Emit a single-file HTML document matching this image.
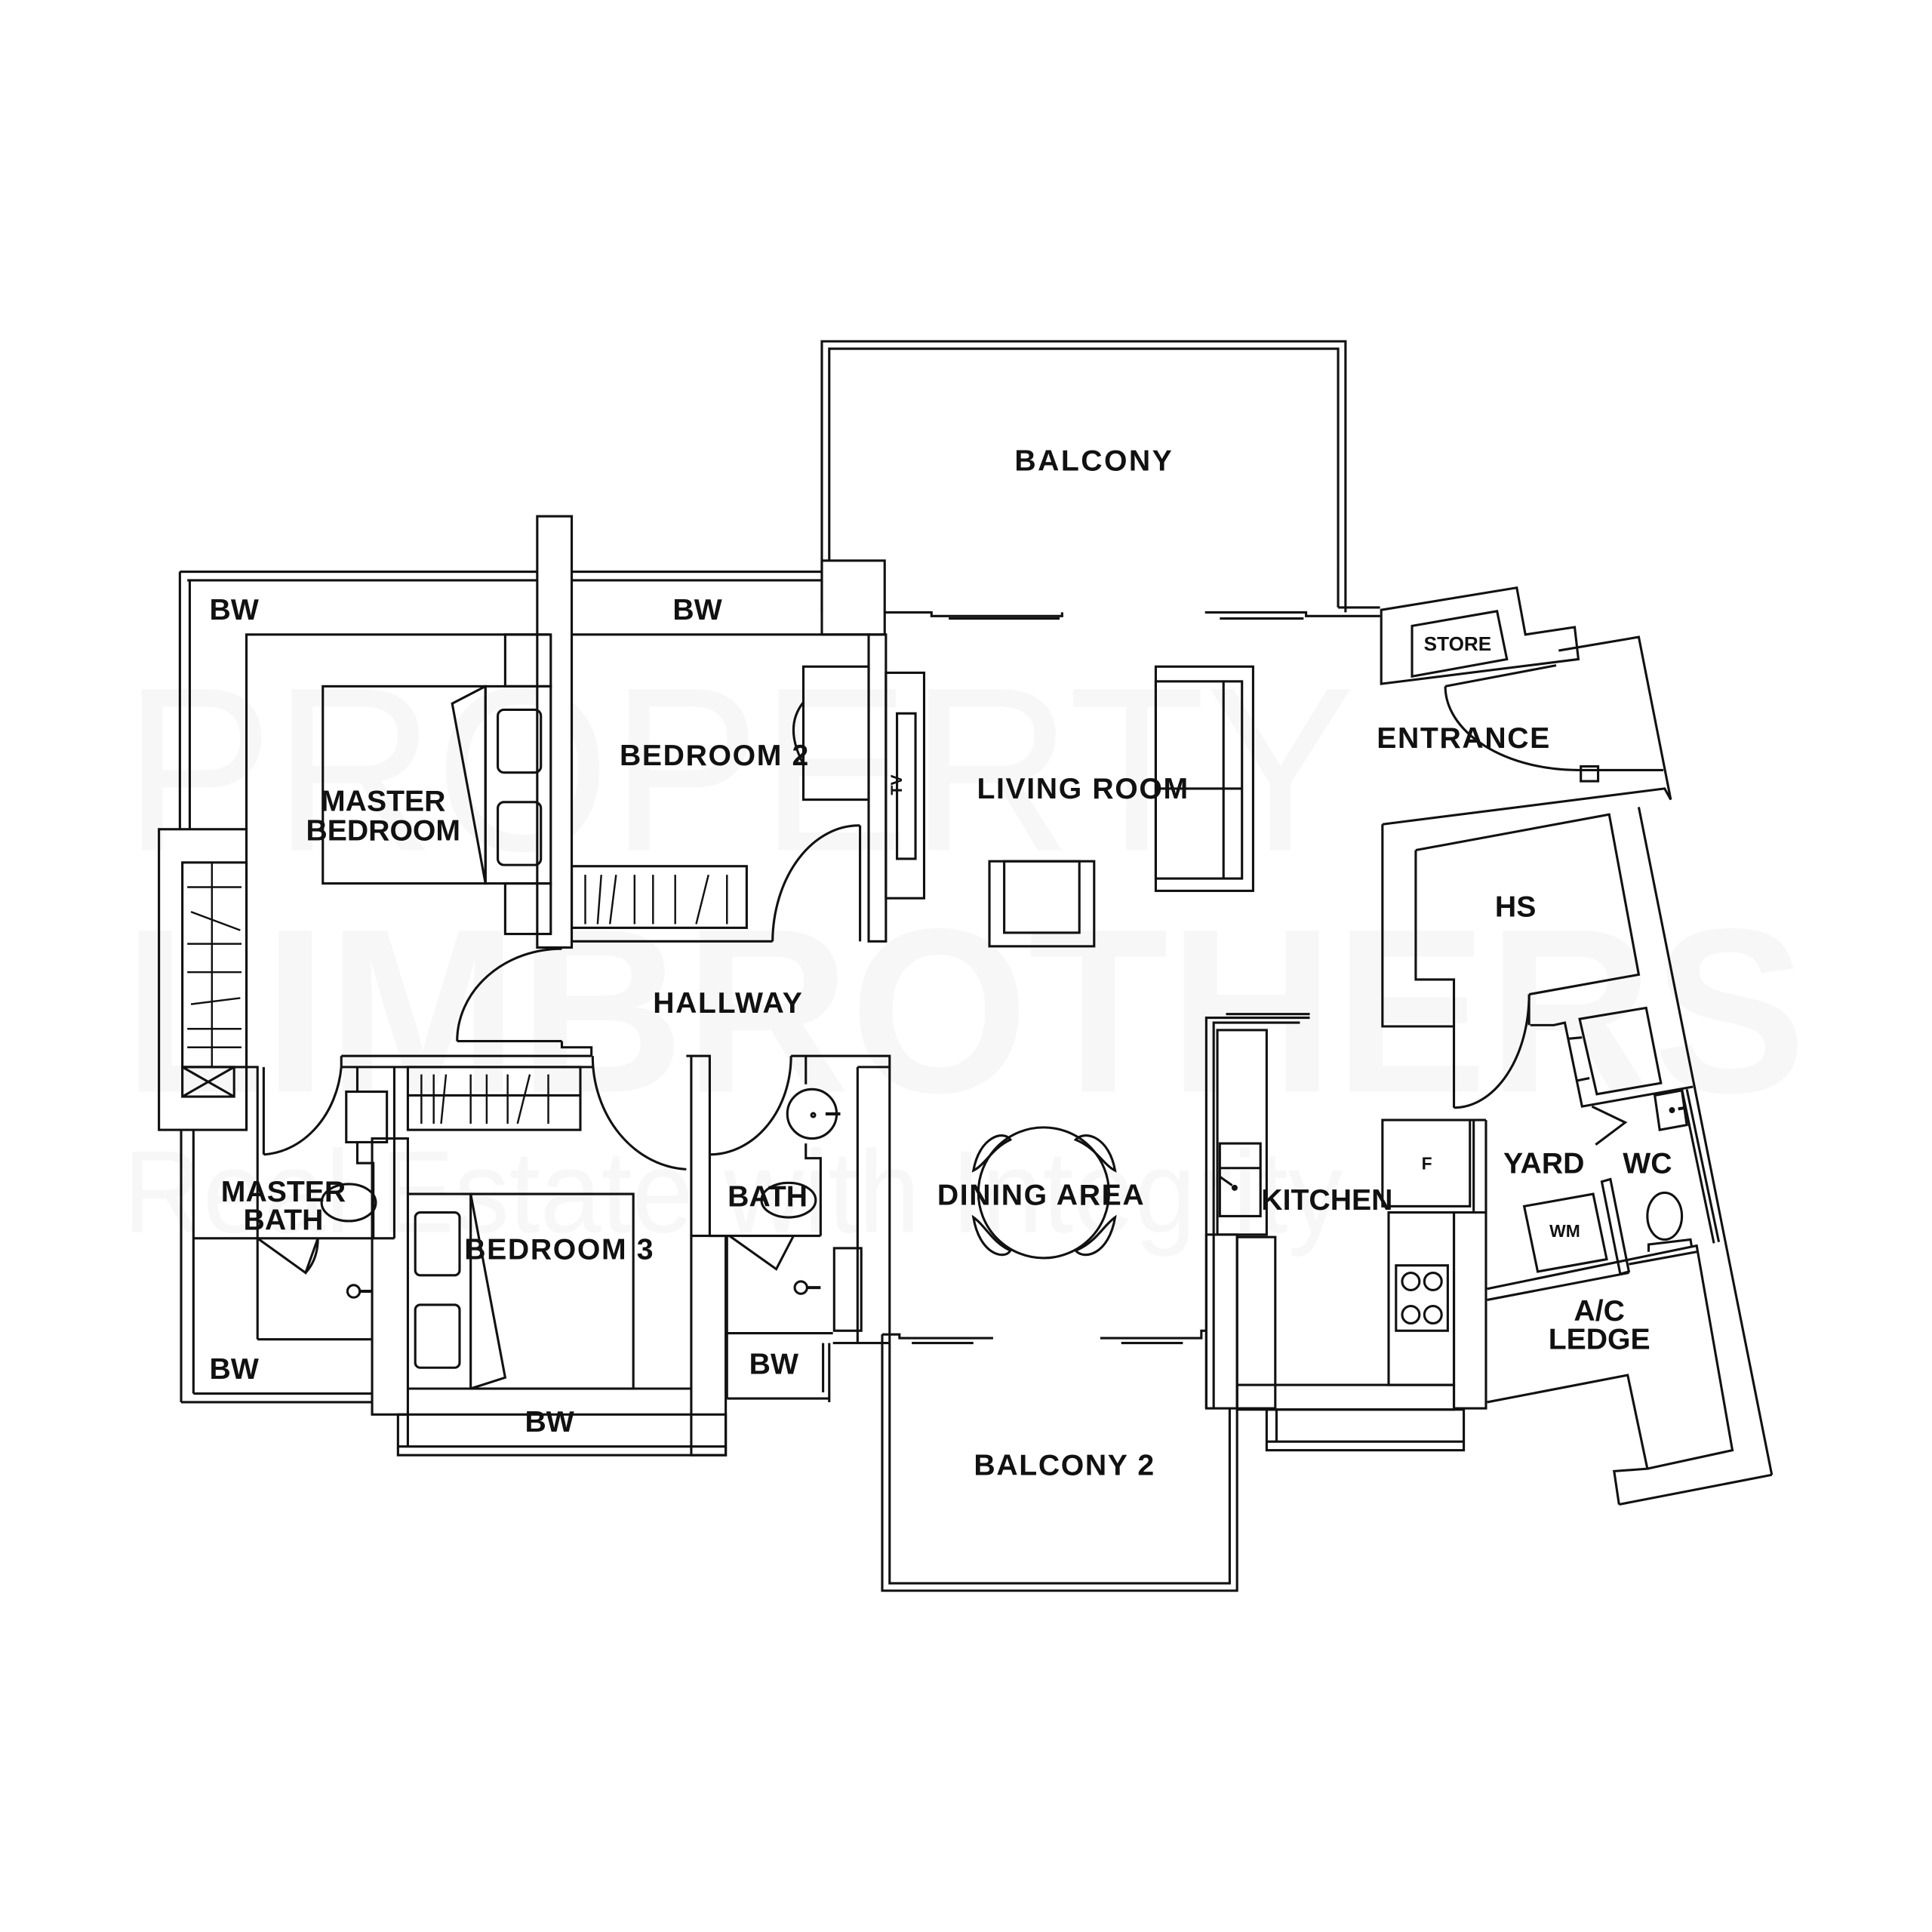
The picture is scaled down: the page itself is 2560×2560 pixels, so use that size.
<!DOCTYPE html>
<html><head><meta charset="utf-8"><style>
html,body{margin:0;padding:0;background:#fff;}
svg{display:block;}
text{font-family:"Liberation Sans",sans-serif;font-weight:bold;fill:#111;}
</style></head><body>
<svg width="2560" height="2560" viewBox="0 0 1568 1568" xmlns="http://www.w3.org/2000/svg">
<rect width="1568" height="1568" fill="#fff"/>
<!-- watermark -->
<g>
<text x="100" y="690" font-size="190" textLength="1000" lengthAdjust="spacingAndGlyphs" style="fill:#f7f7f7;font-weight:normal">PROPERTY</text>
<text x="100" y="886" font-size="190" textLength="1366" lengthAdjust="spacingAndGlyphs" style="fill:#f7f7f7">LIMBROTHERS</text>
<text x="100" y="1000" font-size="95" textLength="990" lengthAdjust="spacingAndGlyphs" style="fill:#f7f7f7;font-weight:normal">Real Estate with Integrity</text>
</g>
<g fill="none" stroke="#111" stroke-width="1.9" stroke-linejoin="miter">
<!-- Balcony top -->
<polyline points="667,497 667,277 1092,277 1092,497"/>
<polyline points="673,455 673,283 1086,283 1086,493"/>
<rect x="667" y="455" width="51" height="60"/>
<polyline points="718,497 756,497 756,500 862,500 862,497"/>
<line x1="770" y1="502" x2="860" y2="502"/>
<polyline points="978,497 1060,497 1060,500 1120,500"/>
<line x1="990" y1="502" x2="1058" y2="502"/>
<line x1="1086" y1="493" x2="1120" y2="493"/>
<!-- Top BW -->
<line x1="146" y1="464" x2="667" y2="464"/>
<line x1="152" y1="471" x2="667" y2="471"/>
<line x1="146" y1="464" x2="146" y2="673"/>
<line x1="154" y1="471" x2="154" y2="673"/>
<rect x="436" y="419" width="28" height="350" fill="#fff"/>
<!-- master bedroom -->
<polyline points="200,673 200,515 446,515"/>
<rect x="129" y="673" width="71" height="244"/>
<rect x="148" y="700" width="52" height="166"/>
<rect x="148" y="866" width="42" height="24"/>
<line x1="148" y1="866" x2="190" y2="890"/><line x1="190" y1="866" x2="148" y2="890"/>
<g stroke-width="1.5">
<line x1="152" y1="720" x2="196" y2="720"/><line x1="152" y1="766" x2="196" y2="766"/>
<line x1="152" y1="789" x2="196" y2="789"/><line x1="152" y1="835" x2="196" y2="835"/>
<line x1="152" y1="850" x2="196" y2="850"/>
<line x1="155" y1="740" x2="195" y2="755"/><line x1="155" y1="815" x2="195" y2="810"/>
<line x1="172" y1="700" x2="172" y2="866"/>
</g>
<rect x="410" y="515" width="37" height="42"/>
<rect x="394" y="557" width="53" height="160"/>
<rect x="404" y="576" width="35" height="51" rx="5"/>
<rect x="404" y="651" width="35" height="51" rx="5"/>
<rect x="410" y="717" width="37" height="41"/>
<rect x="262" y="557" width="132" height="160"/>
<polyline points="394,557 367,571 394,717"/>
<!-- bedroom 2 -->
<line x1="464" y1="515" x2="706" y2="515"/>
<rect x="705" y="515" width="14" height="249"/>
<line x1="698" y1="670" x2="698" y2="764"/>
<rect x="652" y="541" width="53" height="108"/>
<path d="M652,570 Q636,590 652,620"/>
<rect x="719" y="546" width="31" height="183"/>
<rect x="728" y="579" width="15" height="118"/>
<rect x="464" y="703" width="142" height="50"/>
<g stroke-width="1.5">
<line x1="475" y1="710" x2="475" y2="750"/><line x1="488" y1="710" x2="485" y2="750"/>
<line x1="500" y1="710" x2="495" y2="750"/><line x1="515" y1="710" x2="515" y2="750"/>
<line x1="530" y1="710" x2="530" y2="750"/><line x1="548" y1="710" x2="548" y2="750"/>
<line x1="575" y1="710" x2="565" y2="750"/><line x1="590" y1="710" x2="590" y2="750"/>
</g>
<line x1="464" y1="764" x2="627" y2="764"/>
<path d="M627,764 A70,95 0 0 1 698,670"/>
<!-- hallway -->
<line x1="371" y1="845" x2="456" y2="845"/>
<path d="M371,845 A85,75 0 0 1 456,770"/>
<polyline points="456,845 456,850 480,850 480,857"/>
<line x1="277" y1="857" x2="480" y2="857"/>
<line x1="277" y1="866" x2="482" y2="866"/>
<line x1="277" y1="857" x2="277" y2="866"/>
<!-- master bath -->
<polyline points="200,916 200,866 209,866 209,1087"/>
<line x1="214" y1="866" x2="214" y2="937"/>
<path d="M214,937 A67,80 0 0 0 277,866"/>
<line x1="290" y1="866" x2="290" y2="886"/>
<rect x="281" y="886" width="33" height="41"/>
<polyline points="290,927 290,944 303,944 303,1005"/>
<line x1="320" y1="866" x2="320" y2="1005"/>
<ellipse cx="283" cy="976" rx="22" ry="15"/>
<line x1="157" y1="1005" x2="320" y2="1005"/>
<polyline points="209,1005 248,1033 258,1005"/>
<path d="M248,1033 Q258,1022 258,1005"/>
<circle cx="287" cy="1048" r="5"/><line x1="292" y1="1048" x2="302" y2="1048" stroke-width="2.5"/>
<line x1="209" y1="1087" x2="302" y2="1087"/>
<rect x="302" y="924" width="29" height="224"/>
<line x1="147" y1="917" x2="147" y2="1138"/>
<line x1="157" y1="917" x2="157" y2="1131"/>
<line x1="147" y1="1138" x2="302" y2="1138"/>
<line x1="157" y1="1131" x2="302" y2="1131"/>
<!-- bedroom 3 -->
<rect x="331" y="866" width="140" height="51"/>
<line x1="331" y1="889" x2="471" y2="889"/>
<g stroke-width="1.5">
<line x1="342" y1="872" x2="342" y2="912"/><line x1="352" y1="872" x2="352" y2="912"/>
<line x1="362" y1="872" x2="358" y2="912"/><line x1="382" y1="872" x2="382" y2="912"/>
<line x1="395" y1="872" x2="395" y2="912"/><line x1="412" y1="872" x2="412" y2="912"/>
<line x1="430" y1="872" x2="420" y2="912"/><line x1="445" y1="872" x2="445" y2="912"/>
</g>
<path d="M481,857 A80,92 0 0 0 557,949"/>
<line x1="331" y1="969" x2="514" y2="969"/>
<rect x="382" y="969" width="132" height="158"/>
<polyline points="382,969 410,1118 382,1127"/>
<rect x="337" y="984" width="36" height="51" rx="4"/>
<rect x="337" y="1059" width="36" height="51" rx="4"/>
<line x1="331" y1="1127" x2="561" y2="1127"/>
<rect x="323" y="1148" width="266" height="33"/>
<line x1="331" y1="1148" x2="331" y2="1174"/>
<line x1="323" y1="1174" x2="589" y2="1174"/>
<rect x="561" y="1003" width="28" height="178"/>
<!-- bath -->
<polyline points="557,857 576,857 576,1003"/>
<line x1="561" y1="857" x2="561" y2="1003"/>
<path d="M576,937 A66,80 0 0 0 642,857"/>
<polyline points="642,857 722,857 722,1090"/>
<line x1="654" y1="857" x2="654" y2="880"/>
<line x1="696" y1="866" x2="722" y2="866"/>
<line x1="696" y1="866" x2="696" y2="1090"/>
<circle cx="659" cy="904" r="20"/>
<circle cx="660" cy="905" r="1.5"/><line x1="670" y1="904" x2="682" y2="904" stroke-width="2.5"/>
<polyline points="654,928 654,940 666,940 666,1003"/>
<ellipse cx="640" cy="974" rx="22" ry="14"/>
<line x1="576" y1="1003" x2="666" y2="1003"/>
<polyline points="592,1003 630,1030 644,1003"/>
<circle cx="650" cy="1045" r="5"/><line x1="655" y1="1045" x2="666" y2="1045" stroke-width="2.5"/>
<line x1="590" y1="1082" x2="676" y2="1082"/>
<rect x="677" y="1013" width="22" height="67"/>
<line x1="590" y1="1003" x2="590" y2="1135"/>
<line x1="590" y1="1135" x2="673" y2="1135"/>
<line x1="673" y1="1090" x2="673" y2="1138"/>
<line x1="668" y1="1090" x2="668" y2="1130"/>
<line x1="676" y1="1090" x2="722" y2="1090"/>
<!-- living room furniture -->
<rect x="938" y="541" width="79" height="182"/>
<rect x="938" y="553" width="70" height="160"/>
<line x1="993" y1="553" x2="993" y2="713"/>
<line x1="938" y1="640" x2="1008" y2="640"/>
<rect x="803" y="699" width="85" height="69"/>
<rect x="815" y="699" width="61" height="58"/>
<!-- dining -->
<circle cx="847" cy="968" r="53"/>
<path d="M790,950 C795,922 815,917 820,925 C805,932 800,945 790,950Z"/>
<path d="M905,950 C900,922 880,917 873,925 C890,932 895,945 905,950Z"/>
<path d="M790,988 C795,1018 815,1023 820,1015 C805,1008 800,995 790,988Z"/>
<path d="M905,988 C900,1018 880,1023 873,1015 C890,1008 895,995 905,988Z"/>
<!-- balcony 2 -->
<polyline points="716,1083 716,1291 1004,1291 1004,1143"/>
<polyline points="722,1090 722,1285 998,1285 998,1143"/>
<polyline points="716,1083 730,1083 730,1086 806,1086"/>
<line x1="740" y1="1090" x2="790" y2="1090"/>
<polyline points="893,1086 975,1086 975,1080 979,1080"/>
<line x1="910" y1="1090" x2="960" y2="1090"/>
<!-- kitchen -->
<polyline points="979,1143 979,826 1063,826"/>
<polyline points="985,1143 985,830 1055,830"/>
<line x1="995" y1="823" x2="1063" y2="823"/>
<rect x="988" y="836" width="40" height="166"/>
<rect x="990" y="928" width="33" height="59"/>
<line x1="990" y1="948" x2="1023" y2="948"/>
<circle cx="1002" cy="964" r="1.5" fill="#111"/>
<line x1="990" y1="955" x2="1000" y2="962"/>
<rect x="979" y="1002" width="25" height="141"/>
<rect x="1004" y="1004" width="31" height="139"/>
<rect x="1004" y="1124" width="176" height="20"/>
<rect x="1028" y="1144" width="160" height="33"/>
<line x1="1036" y1="1144" x2="1036" y2="1170"/>
<line x1="1028" y1="1170" x2="1188" y2="1170"/>
<rect x="1127" y="984" width="53" height="140"/>
<rect x="1133" y="1027" width="42" height="53"/>
<circle cx="1145" cy="1040" r="7"/><circle cx="1163" cy="1040" r="7"/>
<circle cx="1145" cy="1067" r="7"/><circle cx="1163" cy="1067" r="7"/>
<rect x="1180" y="984" width="26" height="159"/>
<rect x="1122" y="909" width="71" height="70"/>
<line x1="1196" y1="909" x2="1196" y2="983"/>
<line x1="1193" y1="909" x2="1206" y2="909"/>
<line x1="1206" y1="909" x2="1206" y2="984"/>
<!-- right wing: store / entrance -->
<polygon points="1121,495 1231,477 1238,515 1278,509 1281,535 1121,555"/>
<polygon points="1146,508 1215,496 1223,535 1146,549"/>
<polyline points="1265,528 1330,517 1356,649"/>
<polyline points="1263,540 1173,557"/>
<path d="M1173,557 A108,68 0 0 0 1281,625"/>
<polyline points="1281,625 1350,625"/>
<rect x="1283" y="622" width="14" height="12"/>
<!-- HS -->
<polyline points="1122,669 1351,640 1356,649"/>
<polyline points="1122,669 1122,833 1180,833 1180,899"/>
<polyline points="1149,690 1306,661 1330,791 1241,807"/>
<polyline points="1149,690 1149,795 1180,795 1180,833"/>
<path d="M1180,899 A61,92 0 0 0 1241,807"/>
<line x1="1241" y1="807" x2="1241" y2="832"/>
<polyline points="1242,832 1261,832 1270,830 1284,898 1374,882"/>
<polygon points="1282,827 1336,818 1348,879 1296,888"/>
<line x1="1273" y1="843" x2="1284" y2="842"/>
<line x1="1280" y1="877" x2="1290" y2="875"/>
<!-- outer slanted wall -->
<line x1="1330" y1="655" x2="1438" y2="1197"/>
<line x1="1438" y1="1197" x2="1314" y2="1221"/>
<polyline points="1314,1221 1310,1194 1337,1192 1321,1116 1207,1138"/>
<polyline points="1337,1192 1406,1177 1377,1011 1207,1046"/>
<polyline points="1292,898 1319,911 1295,929"/>
<polygon points="1343,889 1365,885 1369,913 1347,917"/>
<line x1="1365" y1="884" x2="1391" y2="1009"/>
<line x1="1369" y1="884" x2="1395" y2="1008"/>
<circle cx="1357" cy="901" r="1.5" fill="#111"/><line x1="1362" y1="900" x2="1368" y2="899" stroke-width="2.5"/>
<polygon points="1237,979 1293,969 1304,1022 1248,1032"/>
<polygon points="1300,959 1307,957 1322,1032 1315,1034"/>
<ellipse cx="1351" cy="987" rx="14" ry="19"/>
<polyline points="1338,1016 1338,1010 1372,1006 1373,1012"/>
<line x1="1322" y1="1026" x2="1377" y2="1016"/>
<line x1="1207" y1="1055" x2="1322" y2="1033"/>
</g>
<!-- labels -->
<g font-size="24" text-anchor="middle">
<text x="888" y="382" letter-spacing="1.5">BALCONY</text>
<text x="190" y="503">BW</text>
<text x="566" y="503">BW</text>
<text x="580" y="621" letter-spacing="1">BEDROOM 2</text>
<text x="311" y="658">MASTER</text>
<text x="311" y="682">BEDROOM</text>
<text x="879" y="648" letter-spacing="1">LIVING ROOM</text>
<text x="1188" y="607" letter-spacing="1">ENTRANCE</text>
<text x="1230" y="744">HS</text>
<text x="591" y="822" letter-spacing="1">HALLWAY</text>
<text x="230" y="975">MASTER</text>
<text x="230" y="998">BATH</text>
<text x="623" y="979">BATH</text>
<text x="845" y="978" letter-spacing="1">DINING AREA</text>
<text x="1077" y="982">KITCHEN</text>
<text x="1253" y="952">YARD</text>
<text x="1337" y="952">WC</text>
<text x="454" y="1022" letter-spacing="1">BEDROOM 3</text>
<text x="1298" y="1072">A/C</text>
<text x="1298" y="1095">LEDGE</text>
<text x="190" y="1119">BW</text>
<text x="628" y="1115">BW</text>
<text x="446" y="1162">BW</text>
<text x="864" y="1197" letter-spacing="1">BALCONY 2</text>
</g>
<text x="1183" y="528" font-size="16" text-anchor="middle">STORE</text>
<text x="1158" y="949" font-size="14" text-anchor="middle">F</text>
<text x="1270" y="1004" font-size="14" text-anchor="middle">WM</text>
<text x="0" y="0" font-size="13" text-anchor="middle" transform="translate(732,637) rotate(-90)">TV</text>
</svg>
</body></html>
